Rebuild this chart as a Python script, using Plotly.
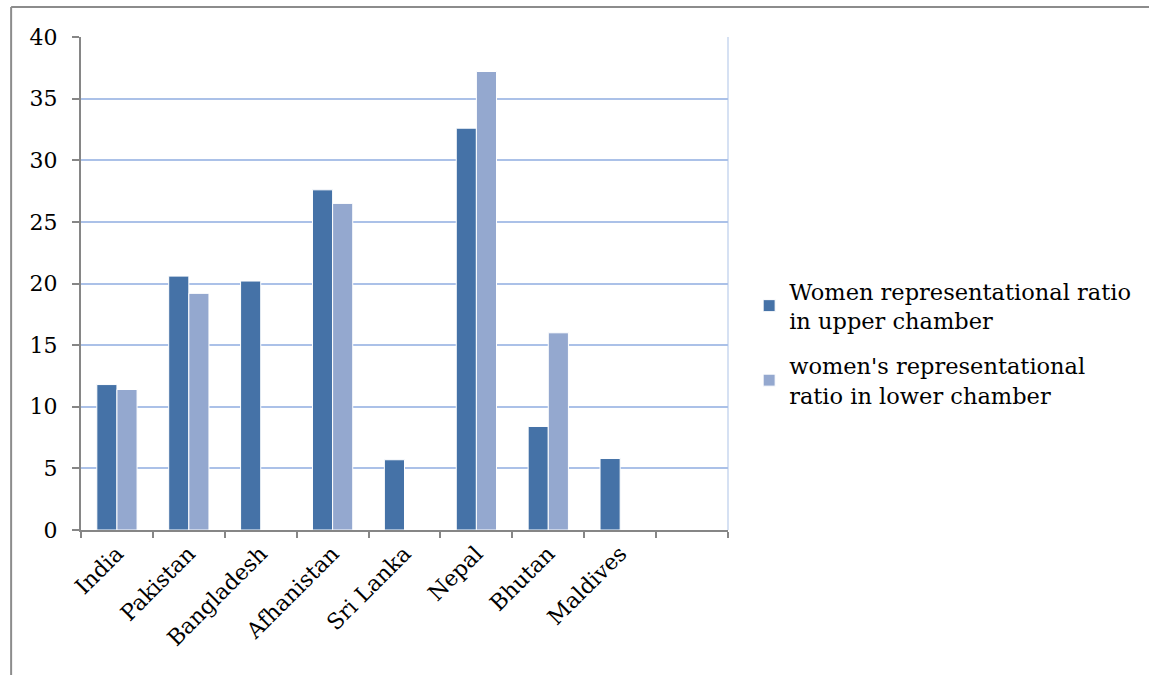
import plotly.graph_objects as go

countries = ["India", "Pakistan", "Bangladesh", "Afhanistan", "Sri Lanka",
             "Nepal", "Bhutan", "Maldives", " "]
upper_chamber = [11.8, 20.6, 20.2, 27.6, 5.7, 32.6, 8.4, 5.8, None]
lower_chamber = [11.4, 19.2, None, 26.5, None, 37.2, 16.0, None, None]
y_ticks = [0, 5, 10, 15, 20, 25, 30, 35, 40]

series_names = ["Women representational ratio<br>in upper chamber",
                "women's representational<br>ratio in lower chamber"]
series_colors = ["#4572A7", "#94A8CF"]

FONT = "DejaVu Serif"
GRID = "#ABC1E8"
AXIS = "#868686"

fig = go.Figure()
for i, (name, vals, color) in enumerate(zip(series_names,
                                            [upper_chamber, lower_chamber],
                                            series_colors)):
    fig.add_trace(go.Bar(
        x=countries, y=vals, name=name, legendgroup=f"g{i}",
        marker=dict(color=color, line=dict(color="white", width=1)),
    ))

fig.update_layout(
    width=1149, height=675,
    margin=dict(l=81, r=421, t=37, b=145),
    paper_bgcolor="white", plot_bgcolor="white",
    barmode="group", bargap=0.44, bargroupgap=0.0,
    font=dict(family=FONT, color="#000000"),
    legend=dict(
        xref="container", yref="container",
        x=0.652, y=0.492, xanchor="left", yanchor="middle",
        font=dict(family=FONT, size=22.5, color="#000000"),
        traceorder="grouped", tracegroupgap=13,
    ),
    showlegend=True,
)

fig.update_xaxes(
    type="category", categoryorder="array", categoryarray=countries,
    tickangle=-45, tickson="boundaries", ticks="outside", ticklen=6,
    tickcolor=AXIS, tickwidth=2,
    showline=True, linecolor=AXIS, linewidth=2,
    showgrid=False, tickfont=dict(family=FONT, size=22, color="#000000"),
)
fig.update_yaxes(
    range=[0, 40], tickvals=y_ticks, ticks="outside", ticklen=7,
    tickcolor=AXIS, tickwidth=2, ticklabelstandoff=10,
    showline=True, linecolor=AXIS, linewidth=2,
    showgrid=True, gridcolor=GRID, gridwidth=1.5, zeroline=False,
    tickfont=dict(family=FONT, size=22, color="#000000"),
)

# right edge of the plot area and the outer chart frame
fig.add_shape(type="line", xref="paper", yref="paper", x0=1, x1=1, y0=0, y1=1,
              line=dict(color="#C9D7EF", width=1.5), layer="below")
fig.add_shape(type="line", xref="paper", yref="paper", x0=-0.108, x1=-0.108,
              y0=1.061, y1=-0.3, line=dict(color="#8C8C8C", width=2))
fig.add_shape(type="line", xref="paper", yref="paper", x0=-0.108, x1=1.7,
              y0=1.061, y1=1.061, line=dict(color="#8C8C8C", width=2))

fig.write_html("out.html")
